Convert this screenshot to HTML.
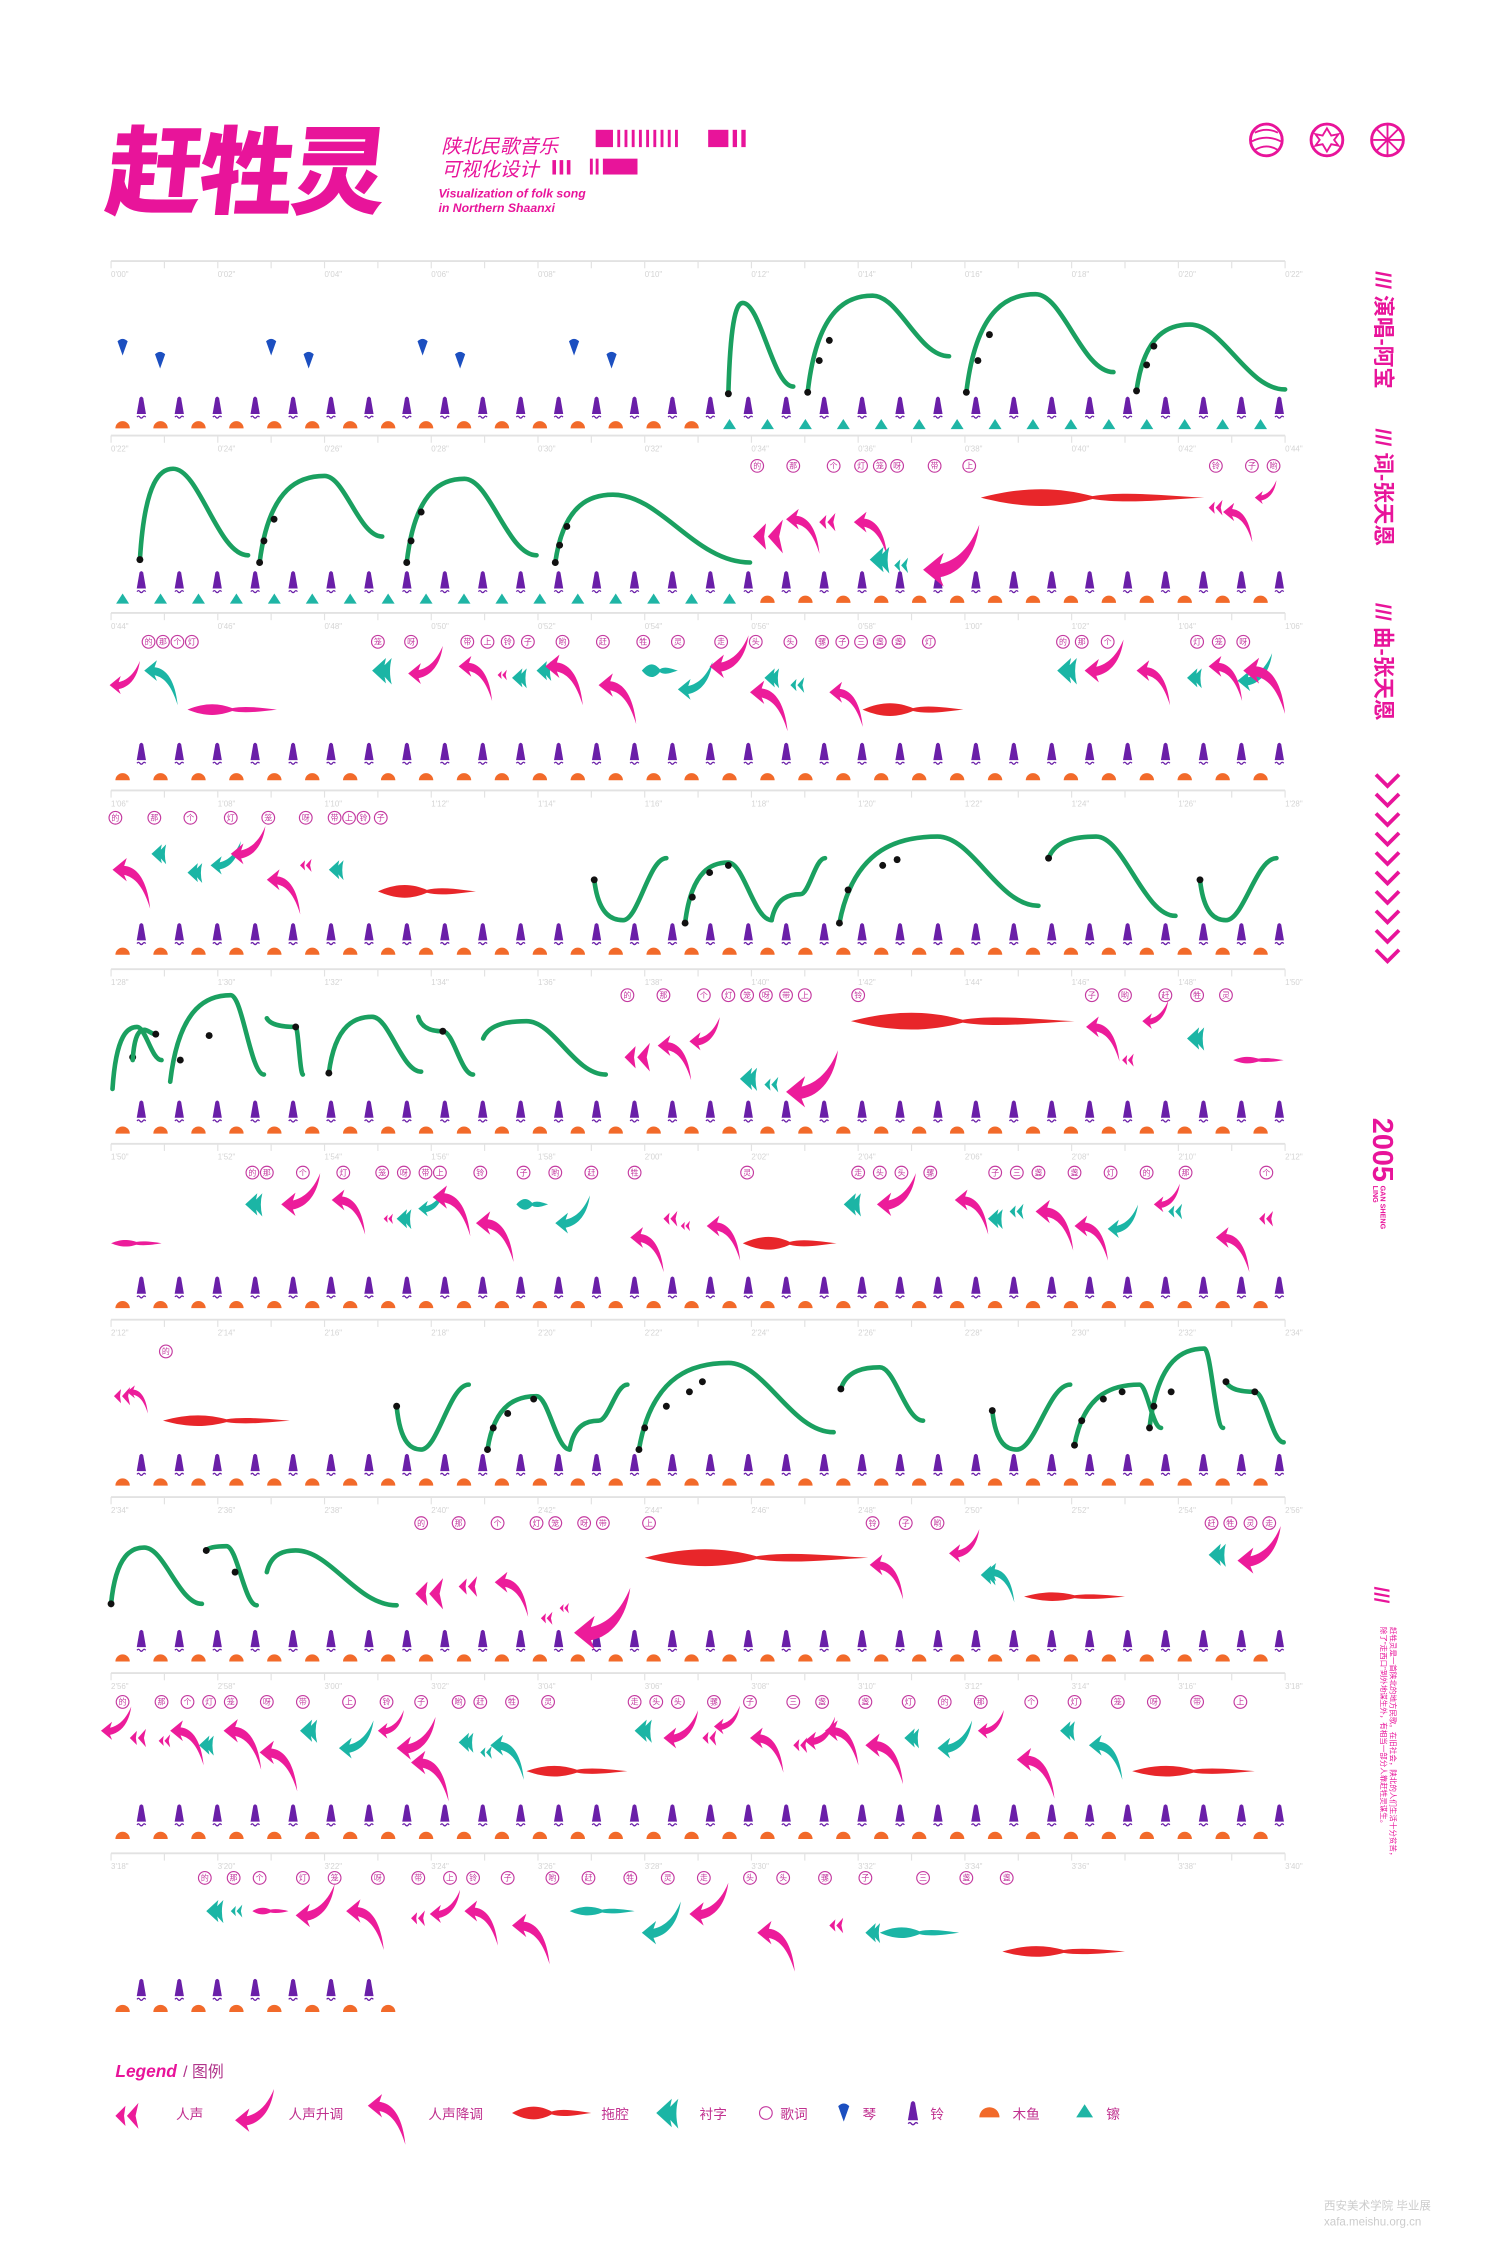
<!DOCTYPE html>
<html><head><meta charset="utf-8"><style>
html,body{margin:0;padding:0;background:#fff;}
svg{display:block;}
text{font-family:"Liberation Sans","Noto Sans CJK SC",sans-serif;}
</style></head><body>
<svg id="s" xmlns="http://www.w3.org/2000/svg" width="1500" height="2249" viewBox="0 0 1040 1559.3" preserveAspectRatio="none">
<defs>
<g id="bell"><path d="M-3.2,0 L-1.3,-11 Q0,-13 1.3,-11 L3.2,0 Z" fill="#6a1fa8"/><path d="M-3,2.2 q1,-1.4 2,0 q1,1.4 2,0 q1,-1.4 2,0" stroke="#6a1fa8" stroke-width="0.9" fill="none"/></g>
<path id="fish" d="M-5,0 A5,5 0 0 1 5,0 Z" fill="#f26a2a"/>
<path id="cym" d="M-4.5,0 L0,-7 L4.5,0 Z" fill="#1fb5a5"/>
<path id="qin" d="M-3.2,-4 Q0,-7 3.2,-4 L0,5 Z" fill="#1c4fc0"/>
<path id="down" d="M0,0 L11,-9 L9,-3 C20,-2 27,10 29,30 C24,14 18,6 9,4 L11,9 Z"/>
<path id="up" d="M0,0 L11,-9 L9,-3 C18,-5 25,-12 30,-24 C28,-8 20,2 9,4 L11,9 Z"/>
<path id="voice" d="M0,0 L7,-7 L6,0 L7,7 Z M8,0 L16,-9 L14,0 L16,9 Z"/>
<path id="fan" d="M0,0 L12,-11 Q9,0 12,11 Z M6,0 L17,-11 Q14,0 17,12 Z"/>
</defs>
<g fill="#e8149a">
<text x="72" y="143" font-size="66" font-weight="900" transform="skewX(-6) translate(15,0)" font-family="Noto Sans CJK SC, sans-serif" letter-spacing="-2">赶牲灵</text>
<text x="306" y="106" font-size="13.5" font-style="italic" font-family="Noto Sans CJK SC, sans-serif">陕北民歌音乐</text>
<text x="306" y="122" font-size="13.5" font-style="italic" font-family="Noto Sans CJK SC, sans-serif">可视化设计</text>
<text x="304" y="137" font-size="8.5" font-style="italic" font-weight="bold">Visualization of folk song</text>
<text x="304" y="147" font-size="8.5" font-style="italic" font-weight="bold">in Northern Shaanxi</text>
<rect x="413" y="90" width="12" height="12"/>
<rect x="428" y="90" width="2" height="12"/><rect x="433" y="90" width="2" height="12"/><rect x="438" y="90" width="2" height="12"/><rect x="443" y="90" width="2" height="12"/><rect x="448" y="90" width="2" height="12"/><rect x="453" y="90" width="2" height="12"/><rect x="458" y="90" width="2" height="12"/><rect x="463" y="90" width="2" height="12"/><rect x="468" y="90" width="2" height="12"/>
<rect x="491" y="90" width="14" height="12"/><rect x="508" y="90" width="3" height="12"/><rect x="514" y="90" width="3" height="12"/>
<rect x="409" y="110" width="2" height="11"/><rect x="413" y="110" width="2" height="11"/><rect x="418" y="110" width="24" height="11"/>
<rect x="383" y="111" width="2.5" height="10"/><rect x="388" y="111" width="2.5" height="10"/><rect x="393" y="111" width="2.5" height="10"/>
</g>
<g fill="none" stroke="#e8149a" stroke-width="2">
<circle cx="878" cy="97" r="11"/><path d="M870,92 Q878,88 886,92 M868,98 Q878,93 888,98 M870,104 Q878,99 886,104" stroke-width="1.3"/>
<circle cx="920" cy="97" r="11"/><path d="M920,89 L923,94 L928,93 L925,97 L928,101 L923,100 L920,105 L917,100 L912,101 L915,97 L912,93 L917,94 Z" stroke-width="1.3"/>
<circle cx="962" cy="97" r="11"/><path d="M962,86 V108 M952,97 H972 M954,89 L970,105 M970,89 L954,105" stroke-width="1.3"/>
</g>
<g fill="#e8149a" font-family="Noto Sans CJK SC, sans-serif">
<g transform="translate(954,188) rotate(90)"><text x="0" y="0" font-size="15" font-weight="bold">/// 演唱-阿宝</text></g>
<g transform="translate(954,297) rotate(90)"><text x="0" y="0" font-size="15" font-weight="bold">/// 词-张天恩</text></g>
<g transform="translate(954,418) rotate(90)"><text x="0" y="0" font-size="15" font-weight="bold">/// 曲-张天恩</text></g>
<g transform="translate(952,775) rotate(90)"><text x="0" y="0" font-size="20" font-weight="900" font-family="Liberation Sans">2005</text></g>
<g transform="translate(957,822) rotate(90)"><text x="0" y="0" font-size="5" font-weight="bold" font-family="Liberation Sans">GAN SHENG</text><text x="0" y="5" font-size="5" font-weight="bold" font-family="Liberation Sans">LING</text></g>
<g transform="translate(953,1100) rotate(90)"><text x="0" y="0" font-size="14" font-weight="900" font-family="Liberation Sans">///</text></g>
<g transform="translate(964,1128) rotate(90)"><text x="0" y="0" font-size="5.2">赶牲灵是一首陕北的地方民歌。在旧社会，陕北的人们生活十分贫苦，</text><text x="0" y="6.5" font-size="5.2">除了"走西口"到外地谋生外，有相当一部分人靠赶牲灵谋生。</text></g>
</g>
<g id="chev" fill="none" stroke="#e8149a" stroke-width="2.6"></g>
<g id="rows"></g>
<text x="80" y="1440" font-size="12" font-weight="bold" font-style="italic" fill="#e8149a">Legend</text>
<text x="127" y="1440" font-size="11" fill="#b0348a" font-family="Noto Sans CJK SC, sans-serif">/ 图例</text>
<g id="legend" font-size="9.5" fill="#c0308f" font-family="Noto Sans CJK SC, sans-serif"></g>
<text x="918" y="1543" font-size="8" fill="#ccc">xafa.meishu.org.cn</text>
<text x="918" y="1532" font-size="8" fill="#ccc" font-family="Noto Sans CJK SC, sans-serif">西安美术学院 毕业展</text>
</svg>
<script>
var R=document.getElementById("rows");
var M="#ec1c9a",T="#1bb5a5",RED="#e8262a",G="#1aa060";
var html="";
function use(id,x,y,s,c,extra){html+='<use href="#'+id+'" transform="translate('+x+','+y+') scale('+(s||1)+')"'+(c?' fill="'+c+'"':'')+(extra||'')+'/>';}
function lens(x,y,w,c,h){h=h||7;html+='<path fill="'+c+'" d="M'+x+','+y+' C'+(x+w*0.2)+','+(y-h)+' '+(x+w*0.35)+','+(y-h*0.9)+' '+(x+w*0.5)+','+(y-1)+' C'+(x+w*0.65)+','+(y-h*0.6)+' '+(x+w*0.85)+','+(y-1)+' '+(x+w)+','+y+' C'+(x+w*0.85)+','+(y+1)+' '+(x+w*0.65)+','+(y+h*0.6)+' '+(x+w*0.5)+','+(y+1)+' C'+(x+w*0.35)+','+(y+h*0.9)+' '+(x+w*0.2)+','+(y+h)+' '+x+','+y+' Z"/>';}
function arch(x0,y0,xp,yp,x1,y1,dots){var d1=xp-x0,d2=x1-xp;html+='<path fill="none" stroke="'+G+'" stroke-width="3.2" stroke-linecap="round" d="M'+x0+','+y0+' C'+(x0+0.15*d1)+','+(yp+(y0-yp)*0.1)+' '+(xp-0.35*d1)+','+yp+' '+xp+','+yp+' C'+(xp+0.35*d2)+','+yp+' '+(x1-0.4*d2)+','+y1+' '+x1+','+y1+'"/>';(dots||[]).forEach(function(p){html+='<circle cx="'+p[0]+'" cy="'+p[1]+'" r="2.4" fill="#111"/>';});}
var lyr="的那个灯笼呀带上铃子哟赶牲灵走头头骡子三盏盏灯";
function lyrics(y,xs){xs.forEach(function(x,i){html+='<circle cx="'+x+'" cy="'+y+'" r="4.4" fill="none" stroke="#c43aa0" stroke-width="0.8"/><text x="'+x+'" y="'+(y+1.9)+'" font-size="5.5" text-anchor="middle" fill="#c43aa0" font-family="Noto Sans CJK SC, sans-serif">'+lyr[i%lyr.length]+'</text>';});}
function fmt(s){return Math.floor(s/60)+"'"+(s%60<10?"0":"")+(s%60)+'"';}
var axes=[181,302,425,548,672,793,915,1038,1160,1285];
var bellY=[287,408,527,652,775,897,1020,1142,1263,1384];
var fishY=[297,418,541,662,786,907,1030,1152,1275,1395];
axes.forEach(function(y,r){
 html+='<line x1="77" y1="'+y+'" x2="891" y2="'+y+'" stroke="#e2e2e2" stroke-width="1.3"/>';
 for(var i=0;i<=22;i++){var x=77+37*i;html+='<line x1="'+x+'" y1="'+y+'" x2="'+x+'" y2="'+(y+5)+'" stroke="#e2e2e2" stroke-width="0.8"/>';}
 for(var i=0;i<12;i++){html+='<text x="'+(77+74*i)+'" y="'+(y+11)+'" font-size="5.5" fill="#d4d4d4">'+fmt(r*22+2*i)+'</text>';}
 var nb=r==9?7:31;
 for(var i=0;i<nb;i++){use("bell",98+26.3*i,bellY[r]);}
 var nf=r==9?8:31;
 for(var i=0;i<nf;i++){var x=85+26.3*i;var tc=(r==0&&x>500)||(r==1&&x<515);if(x>891)continue;if(tc)use("cym",x,fishY[r]+0.5);else use("fish",x,fishY[r]);}
});
[[85,241],[111,250],[188,241],[214,250],[293,241],[319,250],[398,241],[424,250]].forEach(function(p){use("qin",p[0],p[1],1.1);});
arch(505,273,515,210,550,268,[[505,273]]);
arch(560,272,605,205,658,247,[[560,272],[568,250],[575,236]]);
arch(670,272,718,204,772,258,[[670,272],[678,250],[686,232]]);
arch(788,271,825,225,891,270,[[788,271],[795,253],[800,240]]);
lyrics(323,[525,550,578,597,610,622,648,672,843,868,883]);
arch(97,388,120,325,172,385,[[97,388]]);
arch(180,390,225,330,265,372,[[180,390],[183,375],[190,360]]);
arch(282,390,322,332,372,385,[[282,390],[285,375],[292,355]]);
arch(385,390,425,343,520,390,[[385,390],[388,378],[393,365]]);
use("voice",522,372,1.3,M);use("down",545,360,0.8,M);use("voice",568,362,0.7,M);use("down",592,362,0.8,M);use("fan",603,388,0.8,T);use("voice",620,392,0.6,T);use("up",640,395,1.3,M);
lens(680,345,155,RED,8);use("voice",838,352,0.6,M);use("down",848,355,0.7,M);use("up",870,345,0.5,M);
lyrics(445,[103,113,123,133,262,285,324,338,352,366,390,418,446,470,500,524,548,570,584,597,610,623,644,737,750,768,830,845,862]);
use("up",76,475,0.7,M);use("down",100,465,0.8,T);lens(130,492,62,M,5);use("fan",258,465,0.8,T);use("up",283,467,0.8,M);use("down",318,462,0.8,M);use("voice",345,468,0.4,M);use("fan",355,470,0.6,T);use("fan",372,465,0.6,T);use("down",378,462,0.9,M);use("down",415,475,0.9,M);
lens(445,465,25,T,6);use("up",470,478,0.8,T);use("up",492,462,0.9,M);use("down",520,480,0.9,M);use("fan",530,470,0.6,T);use("voice",548,475,0.6,T);use("down",575,480,0.8,M);lens(598,492,70,RED,6);
use("fan",733,465,0.8,T);use("up",752,465,0.9,M);use("down",788,465,0.8,M);use("fan",823,470,0.6,T);use("down",838,462,0.8,M);use("up",858,472,0.8,T);use("down",862,465,1,M);
lyrics(567,[80,107,132,160,186,212,232,242,252,264]);
use("down",78,603,0.9,M);use("fan",105,592,0.6,T);use("fan",130,605,0.6,T);use("up",146,600,0.7,T);use("up",160,592,0.8,M);use("down",185,610,0.8,M);use("voice",208,600,0.5,M);use("fan",228,603,0.6,T);lens(262,618,68,RED,6);
arch(412,610,432,638,462,595,[[412,610]]);
arch(475,640,505,598,535,638,[[475,640],[480,622],[492,605],[505,600]]);arch(535,638,555,620,572,595);
arch(582,640,650,580,720,628,[[582,640],[588,617],[612,600],[622,596]]);
arch(727,595,760,580,815,635,[[727,595]]);
arch(832,610,850,638,885,595,[[832,610]]);
lyrics(690,[435,460,488,505,518,531,545,558,595,757,780,808,830,850]);
arch(78,755,95,712,112,735,[[92,733]]);arch(92,735,100,714,108,717,[[108,717]]);
arch(118,750,160,690,183,745,[[125,735],[145,718]]);
arch(185,706,205,712,210,745,[[205,712]]);
arch(228,744,258,705,292,743,[[228,744]]);
arch(290,705,307,715,328,745,[[307,715]]);
arch(335,720,365,708,420,745,[]);
use("voice",433,733,1.1,M);use("down",456,725,0.8,M);use("up",478,722,0.7,M);use("fan",513,748,0.7,T);use("voice",530,752,0.6,T);use("up",545,757,1.2,M);lens(590,708,155,RED,8);
use("down",753,712,0.8,M);use("up",792,708,0.6,M);use("fan",823,720,0.7,T);use("voice",778,735,0.5,M);lens(855,735,35,M,3);
lyrics(813,[175,185,210,238,265,280,295,305,333,363,385,410,440,518,595,610,625,645,690,705,720,745,770,795,822,878]);
lens(77,862,35,M,3);use("fan",170,835,0.7,T);use("up",195,835,0.9,M);use("down",230,832,0.8,M);use("voice",266,845,0.4,M);use("fan",275,845,0.6,T);use("up",290,838,0.6,T);use("down",300,830,0.9,M);use("down",330,848,0.9,M);
lens(358,835,22,T,5);use("up",385,848,0.8,T);use("down",437,858,0.8,M);use("voice",460,845,0.6,M);use("voice",472,850,0.4,M);use("down",490,850,0.8,M);lens(515,862,65,RED,6);
use("fan",585,835,0.7,T);use("up",608,835,0.9,M);use("down",662,832,0.8,M);use("fan",685,845,0.6,T);use("voice",700,840,0.6,T);use("down",718,840,0.9,M);use("down",745,850,0.8,M);use("up",768,852,0.7,T);use("up",800,835,0.6,M);use("voice",810,840,0.6,T);use("down",843,858,0.8,M);use("voice",873,845,0.6,M);
lyrics(937,[115]);
use("voice",79,968,0.7,M);use("down",88,965,0.5,M);lens(113,985,88,RED,5);
arch(275,975,292,1005,325,960,[[275,975]]);
arch(338,1005,372,968,395,1005,[[338,1005],[342,990],[352,980],[370,970]]);arch(395,1005,415,985,435,960);
arch(443,1005,505,945,578,993,[[443,1005],[447,990],[462,975],[478,965],[487,958]]);
arch(583,963,610,948,640,985,[[583,963]]);
arch(688,978,705,1005,742,960,[[688,978]]);
arch(745,1002,790,960,805,990,[[745,1002],[750,985],[765,970],[778,965]]);
arch(797,990,835,935,848,990,[[797,990],[800,975],[812,965]]);
arch(850,958,870,965,890,1000,[[850,958],[870,965]]);
lyrics(1056,[292,318,345,372,385,405,418,450,605,628,650,840,853,867,880]);
arch(77,1112,100,1073,140,1112,[[77,1112]]);
arch(143,1075,157,1072,178,1113,[[143,1075],[163,1090]]);
arch(185,1090,205,1075,275,1113,[]);
use("voice",288,1105,1.2,M);use("voice",318,1100,0.8,M);use("down",343,1097,0.8,M);use("voice",375,1122,0.5,M);use("voice",388,1115,0.4,M);use("up",398,1132,1.3,M);lens(447,1080,155,RED,8);
use("down",603,1085,0.8,M);use("up",658,1077,0.7,M);use("fan",680,1092,0.6,T);use("down",683,1090,0.7,T);lens(710,1107,70,RED,4);use("fan",838,1078,0.7,T);use("up",858,1082,1,M);
lyrics(1180,[85,112,130,145,160,185,210,242,268,292,318,333,355,380,440,455,470,495,520,550,570,600,630,655,680,715,745,775,800,830,860]);
use("up",70,1200,0.7,M);use("voice",90,1205,0.7,M);use("voice",110,1207,0.5,M);use("down",118,1200,0.8,M);use("fan",138,1210,0.6,T);use("down",155,1200,0.9,M);use("down",180,1215,0.9,M);use("fan",208,1200,0.7,T);use("up",235,1212,0.8,T);use("up",262,1200,0.6,M);use("up",275,1212,0.9,M);use("down",285,1222,0.9,M);
use("fan",318,1208,0.6,T);use("voice",333,1215,0.5,T);use("down",340,1210,0.8,T);lens(365,1228,70,RED,5);
use("fan",440,1200,0.7,T);use("up",460,1205,0.8,M);use("voice",487,1205,0.6,M);use("up",495,1197,0.6,M);use("down",520,1205,0.8,M);use("voice",550,1210,0.6,M);use("up",558,1207,0.7,M);use("down",572,1200,0.8,M);use("down",600,1210,0.9,M);use("fan",627,1205,0.6,T);use("up",650,1212,0.8,T);use("up",678,1200,0.6,M);use("down",705,1220,0.9,M);use("fan",735,1200,0.6,T);use("down",755,1210,0.8,T);lens(785,1228,85,RED,5);
lyrics(1302,[142,162,180,210,232,262,290,312,328,352,383,408,437,463,488,520,543,572,600,640,670,698]);
use("fan",143,1325,0.7,T);use("voice",160,1325,0.5,T);lens(175,1325,25,M,3);use("up",205,1328,0.9,M);use("down",240,1325,0.9,M);use("voice",285,1330,0.6,M);use("up",298,1327,0.7,M);use("down",322,1325,0.8,M);use("down",355,1335,0.9,M);
lens(395,1325,45,T,4);use("up",445,1340,0.9,T);use("up",478,1327,0.9,M);use("down",525,1340,0.9,M);use("voice",575,1335,0.6,M);use("fan",600,1340,0.6,T);lens(610,1340,55,T,5);lens(695,1353,85,RED,5);
R.innerHTML=html;
var c="";for(var i=0;i<10;i++){var y=537+i*13.5;c+='<path d="M954,'+y+' L962,'+(y+8)+' L970,'+y+'"/>';}
document.getElementById("chev").innerHTML=c;
html="";var L=document.getElementById("legend");
use("voice",80,1467,1,M);use("up",163,1470,0.9,M);use("down",255,1460,0.9,M);lens(355,1465,55,RED,6);use("fan",455,1465,0.9,T);
html+='<circle cx="531" cy="1465" r="4.4" fill="none" stroke="#c43aa0" stroke-width="0.8"/>';
use("qin",585,1465,1.2);use("bell",633,1470,1.1);use("fish",686,1468,1.4);use("cym",752,1468,1.3);
var labs=[[122,"人声"],[200,"人声升调"],[297,"人声降调"],[417,"拖腔"],[485,"衬字"],[541,"歌词"],[598,"琴"],[645,"铃"],[702,"木鱼"],[767,"镲"]];
labs.forEach(function(l){html+='<text x="'+l[0]+'" y="'+(1469)+'">'+l[1]+'</text>';});
L.innerHTML=html;
</script>
</body></html>
